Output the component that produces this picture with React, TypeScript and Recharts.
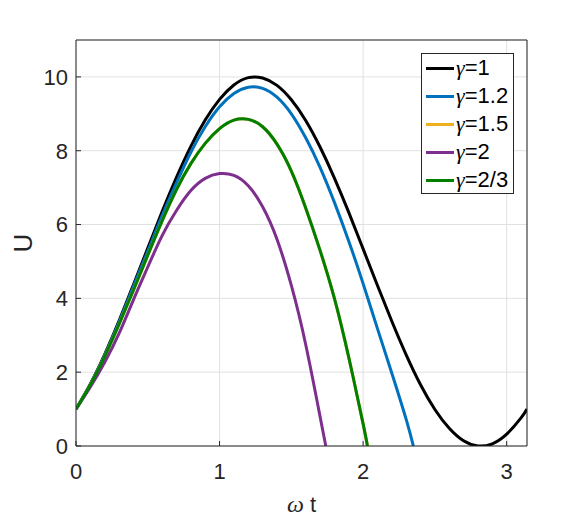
import { LineChart, Line, XAxis, YAxis, CartesianGrid, Legend } from 'recharts'

// omega*t samples and U values, one pair of arrays per gamma
const wt1 = [0, 0.1, 0.2, 0.3, 0.4, 0.5, 0.6, 0.7, 0.8, 0.9, 1.0, 1.1, 1.2, 1.3, 1.4, 1.5, 1.6, 1.7, 1.8, 1.9, 2.0, 2.1, 2.2, 2.3, 2.4, 2.5, 2.6, 2.7, 2.8, 2.9, 3.0, 3.1, 3.1416]
const u1 = [1.0, 1.68, 2.48, 3.39, 4.37, 5.36, 6.35, 7.28, 8.12, 8.83, 9.39, 9.78, 9.98, 9.97, 9.77, 9.38, 8.82, 8.1, 7.26, 6.33, 5.34, 4.35, 3.38, 2.47, 1.66, 0.99, 0.48, 0.14, 0.0, 0.06, 0.32, 0.76, 1.0]

const wt12 = [0, 0.1, 0.2, 0.3, 0.4, 0.5, 0.6, 0.7, 0.8, 0.9, 1.0, 1.1, 1.2, 1.3, 1.4, 1.5, 1.6, 1.7, 1.8, 1.9, 2.0, 2.1, 2.2, 2.3, 2.35]
const u12 = [1.0, 1.67, 2.46, 3.36, 4.32, 5.28, 6.24, 7.13, 7.96, 8.65, 9.19, 9.55, 9.72, 9.69, 9.45, 9.0, 8.35, 7.55, 6.6, 5.55, 4.4, 3.18, 1.97, 0.72, 0]

// gamma=1.5 sits under the gamma=2/3 curve in the reference
const wt15 = [0, 0.1, 0.2, 0.3, 0.4, 0.5, 0.6, 0.7, 0.8, 0.9, 1.0, 1.1, 1.2, 1.3, 1.4, 1.5, 1.6, 1.7, 1.8, 1.9, 2.0, 2.03]
const u15 = [1.0, 1.66, 2.43, 3.3, 4.22, 5.17, 6.1, 6.95, 7.65, 8.2, 8.6, 8.83, 8.85, 8.65, 8.18, 7.45, 6.45, 5.3, 4.0, 2.4, 0.6, 0]

const wt2 = [0, 0.1, 0.2, 0.3, 0.4, 0.5, 0.6, 0.7, 0.8, 0.9, 1.0, 1.1, 1.2, 1.3, 1.4, 1.5, 1.6, 1.7, 1.74]
const u2 = [1.0, 1.6, 2.27, 3.05, 3.96, 4.85, 5.7, 6.38, 6.92, 7.25, 7.38, 7.33, 7.05, 6.48, 5.6, 4.35, 2.75, 0.8, 0]

const wt23 = [0, 0.1, 0.2, 0.3, 0.4, 0.5, 0.6, 0.7, 0.8, 0.9, 1.0, 1.1, 1.2, 1.3, 1.4, 1.5, 1.6, 1.7, 1.8, 1.9, 2.0, 2.03]
const u23 = [1.0, 1.66, 2.43, 3.3, 4.22, 5.17, 6.1, 6.95, 7.65, 8.2, 8.6, 8.83, 8.85, 8.65, 8.18, 7.45, 6.45, 5.3, 4.0, 2.4, 0.6, 0]

const xTicks = [0, 1, 2, 3]
const yTicks = [0, 2, 4, 6, 8, 10]

const toPoints = (xs: number[], ys: number[]) => xs.map((x, i) => ({ x, u: ys[i] }))

const series = [
  { key: 'g1', label: '1', color: '#000000', data: toPoints(wt1, u1) },
  { key: 'g12', label: '1.2', color: '#0072BD', data: toPoints(wt12, u12) },
  { key: 'g15', label: '1.5', color: '#EDB120', data: toPoints(wt15, u15) },
  { key: 'g2', label: '2', color: '#7E2F8E', data: toPoints(wt2, u2) },
  { key: 'g23', label: '2/3', color: '#008000', data: toPoints(wt23, u23) },
]

const axisColor = '#262626'
const sans = '"Liberation Sans", Arial, sans-serif'
const serif = '"Liberation Serif", "Times New Roman", serif'

const XTitle = ({ viewBox }: any) => {
  const cx = viewBox.x + viewBox.width / 2
  return (
    <text x={cx} y={512} textAnchor="middle" fill={axisColor} fontSize={22} fontFamily={sans}>
      <tspan fontFamily={serif} fontStyle="italic" fontSize={24}>ω</tspan>
      <tspan> t</tspan>
    </text>
  )
}

const YTitle = ({ viewBox }: any) => {
  const cy = viewBox.y + viewBox.height / 2
  return (
    <text x={32} y={cy} textAnchor="middle" fill={axisColor} fontSize={26} fontFamily={sans} transform={`rotate(-90, 32, ${cy})`}>
      U
    </text>
  )
}

const renderLegend = () => (
  <div style={{ border: `1px solid ${axisColor}`, background: '#fff', boxSizing: 'border-box', width: 93, height: 141 }}>
    {series.map(s => (
      <div key={s.key} style={{ display: 'flex', alignItems: 'center', height: 28 }}>
        <span style={{ display: 'inline-block', width: 28, height: 3, background: s.color, marginLeft: 4, marginRight: 2 }} />
        <span style={{ fontSize: 22, fontFamily: sans, color: '#000', lineHeight: '28px' }}>
          <span style={{ fontFamily: serif, fontStyle: 'italic' }}>γ</span>={s.label}
        </span>
      </div>
    ))}
  </div>
)

export default function App() {
  return (
    <div style={{ position: 'absolute', left: 0, top: 0, width: 582, height: 518, background: '#fff' }}>
      <LineChart width={582} height={518} margin={{ top: 39, right: 54, bottom: 42, left: 16 }}>
        <CartesianGrid stroke="#e1e1e1" />
        <XAxis
          type="number"
          dataKey="x"
          domain={[0, Math.PI]}
          ticks={xTicks}
          height={30}
          stroke={axisColor}
          tickSize={-5}
          tickMargin={22}
          tick={{ fill: axisColor, fontSize: 22, fontFamily: sans }}
          label={<XTitle />}
          allowDataOverflow
        />
        <XAxis
          xAxisId="top"
          orientation="top"
          type="number"
          domain={[0, Math.PI]}
          ticks={xTicks}
          height={1}
          stroke={axisColor}
          tickSize={-5}
          tick={false}
          allowDataOverflow
        />
        <YAxis
          type="number"
          dataKey="u"
          domain={[0, 11]}
          ticks={yTicks}
          width={60}
          stroke={axisColor}
          tickSize={-5}
          tickMargin={13}
          tick={{ fill: axisColor, fontSize: 22, fontFamily: sans }}
          label={<YTitle />}
          allowDataOverflow
        />
        <YAxis
          yAxisId="right"
          orientation="right"
          type="number"
          domain={[0, 11]}
          ticks={yTicks}
          width={1}
          stroke={axisColor}
          tickSize={-5}
          tick={false}
          allowDataOverflow
        />
        <Legend
          layout="horizontal"
          verticalAlign="middle"
          align="center"
          content={renderLegend}
          wrapperStyle={{ left: 421, top: 53, width: 93, height: 141 }}
        />
        {series.map(s => (
          <Line
            key={s.key}
            data={s.data}
            dataKey="u"
            name={s.label}
            type="natural"
            stroke={s.color}
            strokeWidth={3}
            dot={false}
            isAnimationActive={false}
          />
        ))}
      </LineChart>
    </div>
  )
}
